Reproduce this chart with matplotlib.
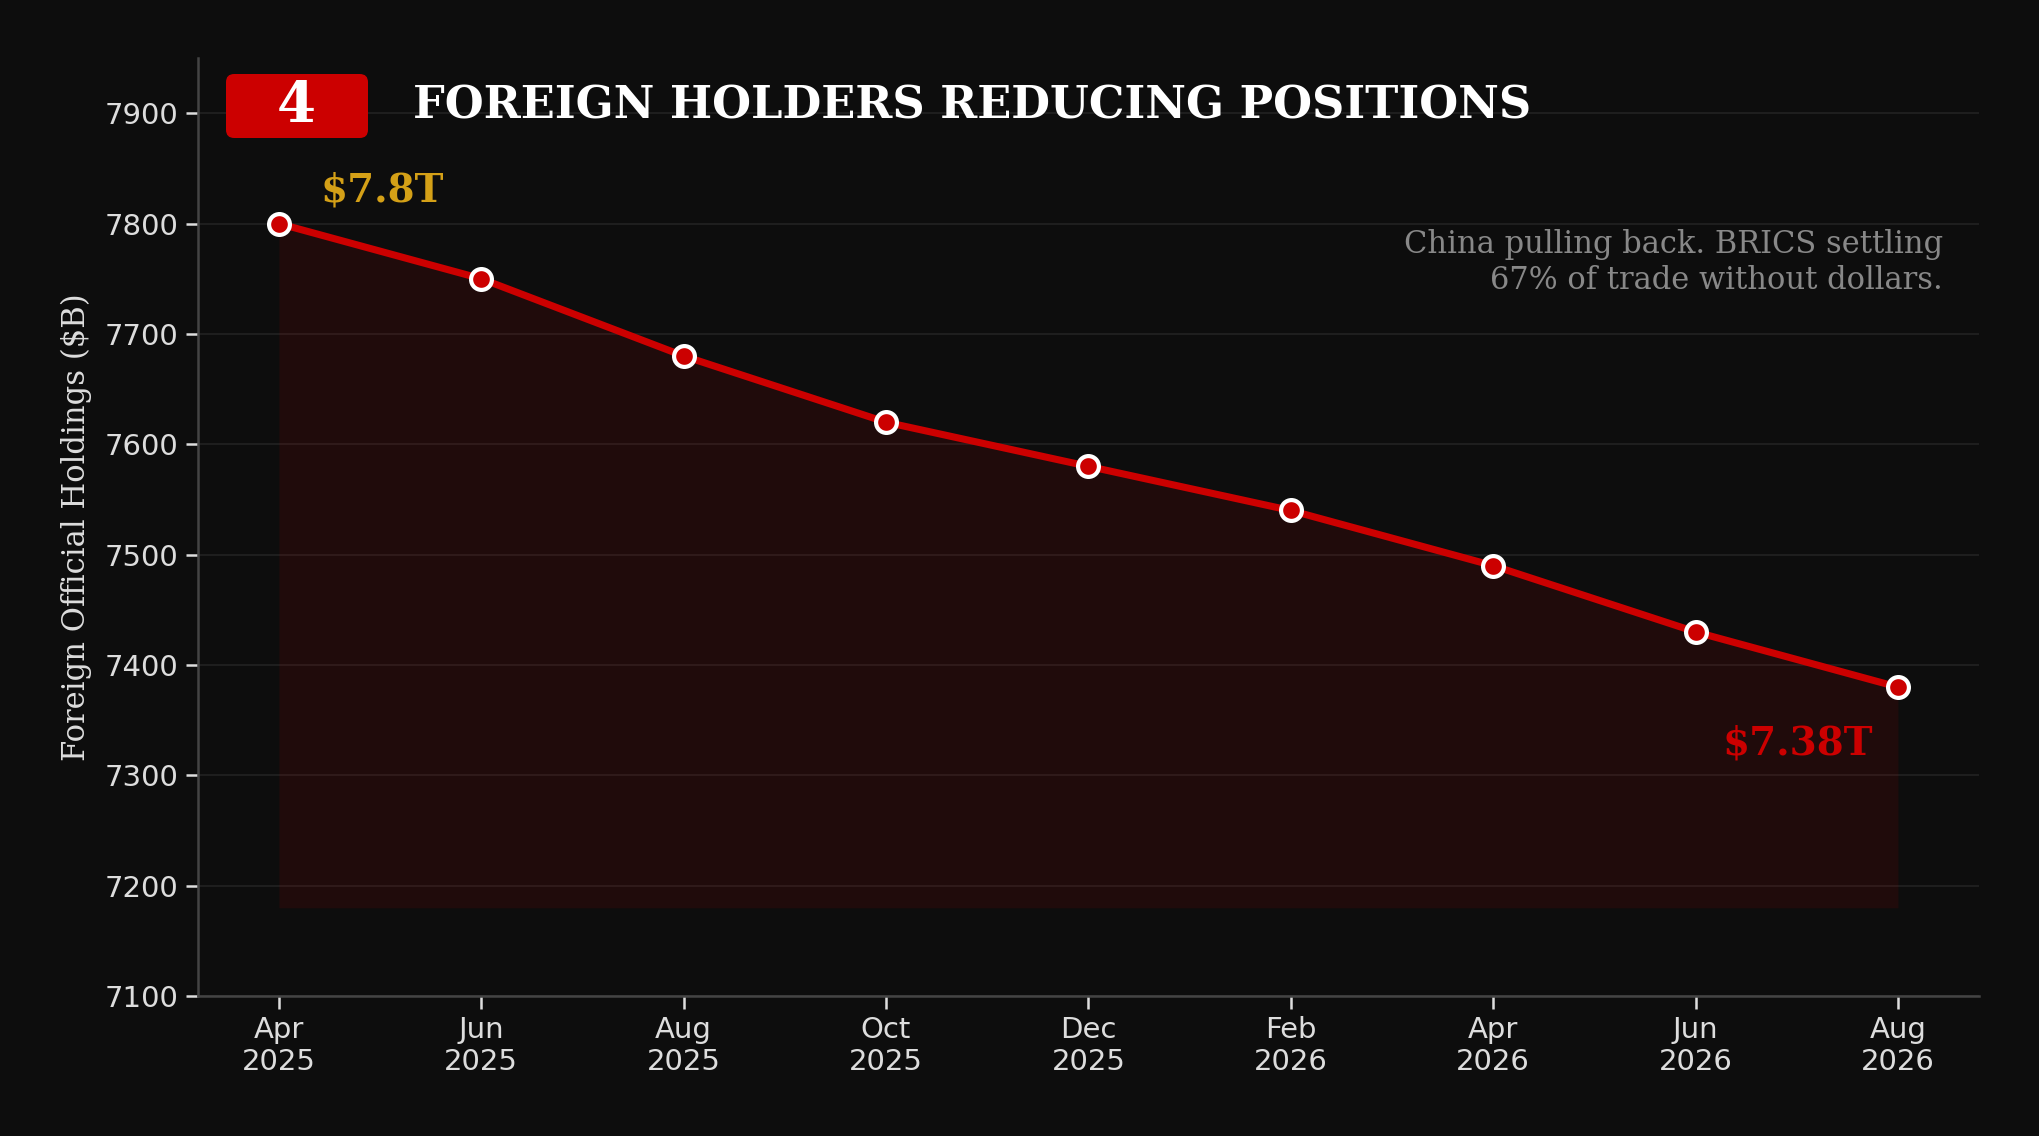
import matplotlib
matplotlib.use("Agg")
import matplotlib.pyplot as plt
from matplotlib.patches import FancyBboxPatch
import numpy as np

# Data
months = ["Apr\n2025", "Jun\n2025", "Aug\n2025", "Oct\n2025", "Dec\n2025",
          "Feb\n2026", "Apr\n2026", "Jun\n2026", "Aug\n2026"]
holdings = [7800, 7750, 7680, 7620, 7580, 7540, 7490, 7430, 7380]
y_ticks = [7100, 7200, 7300, 7400, 7500, 7600, 7700, 7800, 7900]

BG = "#0d0d0d"
RED = "#cc0000"
GOLD = "#d4a017"

W, H, DPI = 2039, 1136, 150
fig = plt.figure(figsize=(W / DPI, H / DPI), dpi=DPI, facecolor=BG)
ax = fig.add_axes([0.0971, 0.1232, 0.8734, 0.8257], facecolor=BG)

x = np.arange(len(months))

# Shaded area and line
ax.fill_between(x, holdings, 7180, color=RED, alpha=0.1, linewidth=0)
ax.plot(x, holdings, color=RED, linewidth=3.4, marker="o", markersize=10,
        markerfacecolor=RED, markeredgecolor="white", markeredgewidth=2,
        zorder=3)

# Axes styling
ax.set_xlim(-0.4, len(months) - 1 + 0.4)
ax.set_ylim(7100, 7950)
ax.set_xticks(x)
ax.set_xticklabels(months, fontsize=14, color="#dddddd")
ax.set_yticks(y_ticks)
ax.set_yticklabels([str(v) for v in y_ticks], fontsize=14, color="#dddddd")
ax.tick_params(colors="#dddddd", length=6, width=1.2)
ax.grid(True, axis="y", color="#ffffff", alpha=0.07, linewidth=1)
ax.set_axisbelow(True)
for side in ["top", "right"]:
    ax.spines[side].set_visible(False)
for side in ["left", "bottom"]:
    ax.spines[side].set_color("#444444")
    ax.spines[side].set_linewidth(1.2)

ax.set_ylabel("Foreign Official Holdings ($B)", fontsize=14.7, color="#dddddd",
              family="DejaVu Serif", labelpad=6)

# Value labels
ax.annotate(f"${holdings[0] / 1000:.1f}T", (x[0], holdings[0]),
            xytext=(20, 16), textcoords="offset points", ha="left", va="center",
            fontsize=18.6, fontweight="bold", color=GOLD, family="DejaVu Serif")
ax.annotate(f"${holdings[-1] / 1000:.2f}T", (x[-1], holdings[-1]),
            xytext=(-12, -27), textcoords="offset points", ha="right", va="center",
            fontsize=18.6, fontweight="bold", color=RED, family="DejaVu Serif")

# Note
ax.text(0.98, 0.818, "China pulling back. BRICS settling\n67% of trade without dollars.",
        transform=ax.transAxes, ha="right", va="top", fontsize=14.65,
        color="#888888", family="DejaVu Serif", linespacing=1.22)

# Badge and title
badge = FancyBboxPatch((226 / W, 1 - 138 / H), 142 / W, 64 / H,
                       boxstyle="round,pad=0,rounding_size=0.004",
                       mutation_aspect=W / H, transform=fig.transFigure,
                       facecolor=RED, edgecolor="none", zorder=5)
fig.patches.append(badge)
fig.text(296 / W, 1 - 106 / H, "4", ha="center", va="center", fontsize=27,
         fontweight="bold", color="white", family="DejaVu Serif", zorder=6)
fig.text(413 / W, 1 - 106 / H, "FOREIGN HOLDERS REDUCING POSITIONS",
         ha="left", va="center", fontsize=21.4, fontweight="bold", color="white",
         family="DejaVu Serif")

fig.savefig("out.png", dpi=DPI, facecolor=BG)
